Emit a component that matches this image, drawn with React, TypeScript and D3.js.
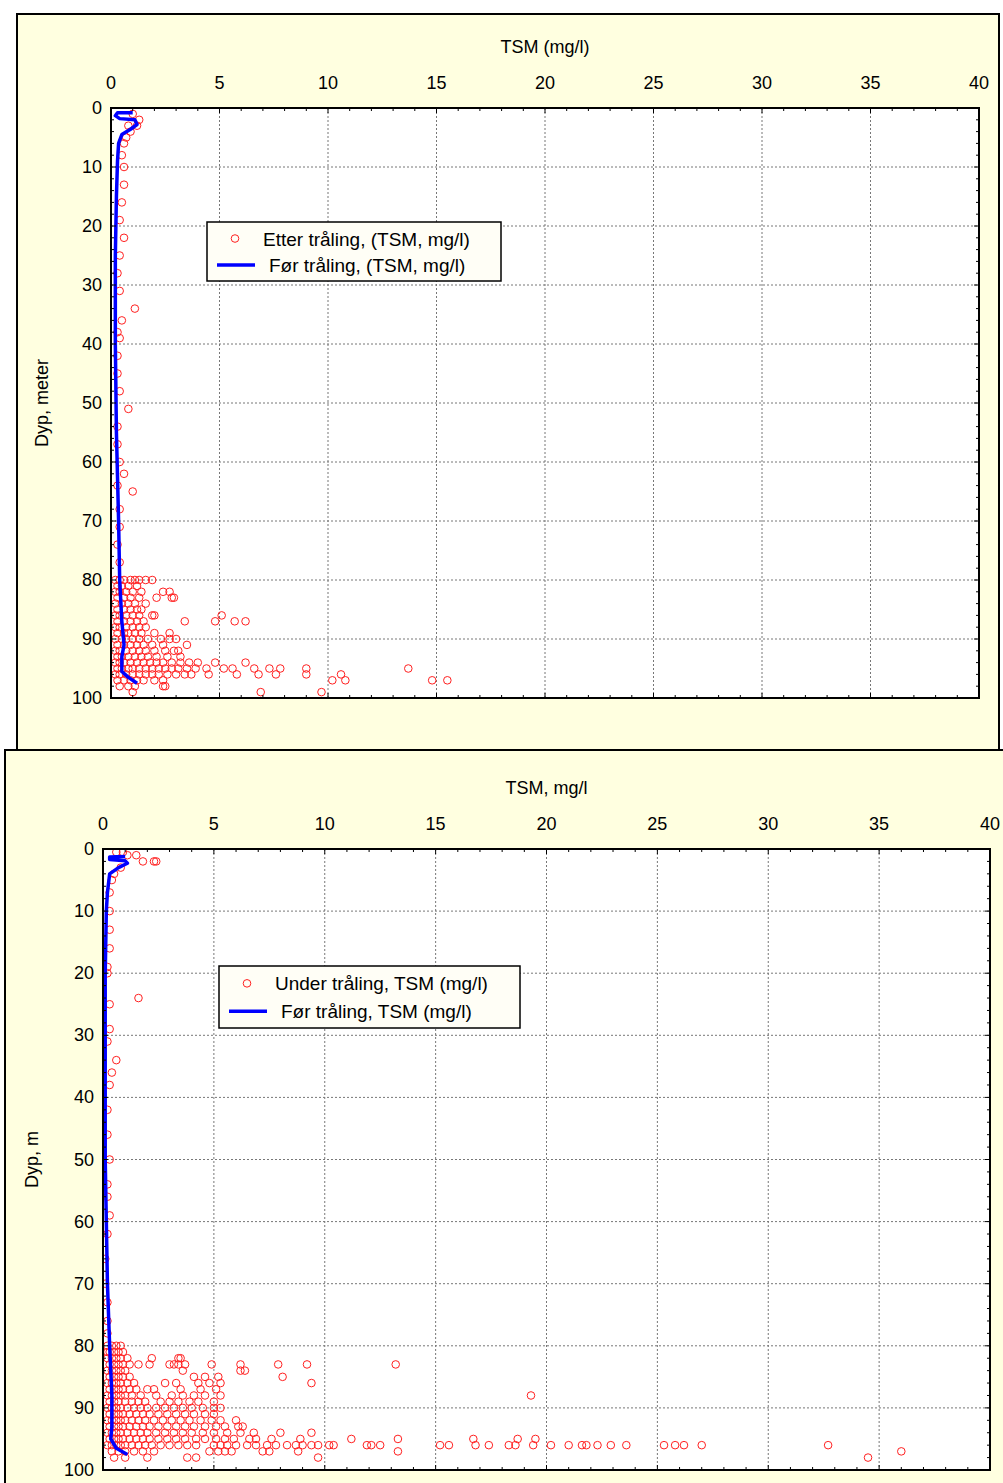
import * as d3 from "d3";

// Top panel: "Etter tråling" scatter, depth rows -> TSM values
const topSurface: [number, number][] = [
  [1.0, 1], [1.3, 2], [1.2, 3], [0.8, 3], [0.9, 4], [0.7, 5], [0.6, 6], [0.5, 8], [0.6, 10], [0.6, 13],
  [0.5, 16], [0.4, 19], [0.6, 22], [0.4, 25], [0.3, 28], [0.4, 31], [1.1, 34], [0.5, 36], [0.3, 38],
  [0.4, 39], [0.3, 42], [0.3, 45], [0.4, 48], [0.8, 51], [0.3, 54], [0.3, 57], [0.4, 60], [0.6, 62],
  [0.3, 64], [1.0, 65], [0.4, 68], [0.4, 71], [0.3, 74], [0.4, 77],
];
const topRows: [number, number[]][] = [
  [80, [0.2, 0.4, 0.6, 0.9, 1.1, 1.3, 1.6, 1.9]],
  [81, [0.3, 0.5, 0.8, 1.2]],
  [82, [0.2, 0.4, 0.7, 1.0, 1.4, 2.4, 2.7]],
  [83, [0.3, 0.6, 0.9, 1.3, 2.1, 2.8, 2.9]],
  [84, [0.2, 0.5, 0.8, 1.1, 1.6]],
  [85, [0.3, 0.6, 0.9, 1.2, 1.4]],
  [86, [0.2, 0.4, 0.7, 1.0, 1.3, 1.9, 2.0, 5.1]],
  [87, [0.3, 0.6, 0.9, 1.2, 1.5, 3.4, 4.8, 5.7, 6.2]],
  [88, [0.2, 0.4, 0.7, 1.0, 1.3, 1.6]],
  [89, [0.3, 0.6, 0.8, 1.1, 1.4, 2.0, 2.7]],
  [90, [0.2, 0.5, 0.7, 1.0, 1.3, 1.7, 2.3, 2.7, 3.0]],
  [91, [0.3, 0.6, 0.9, 1.2, 1.5, 1.9, 2.4, 3.5]],
  [92, [0.2, 0.4, 0.7, 1.0, 1.3, 1.6, 2.0, 2.5, 2.9, 3.1]],
  [93, [0.3, 0.5, 0.8, 1.1, 1.4, 1.7, 2.1, 2.6, 3.2]],
  [94, [0.2, 0.4, 0.6, 0.9, 1.2, 1.5, 1.8, 2.1, 2.4, 2.8, 3.2, 3.6, 4.0, 4.8, 6.2]],
  [95, [0.3, 0.5, 0.8, 1.0, 1.3, 1.6, 1.9, 2.2, 2.5, 2.8, 3.1, 3.5, 3.9, 4.4, 5.2, 5.6, 6.6, 7.3, 7.8, 9.0, 13.7]],
  [96, [0.2, 0.4, 0.7, 1.0, 1.3, 1.6, 1.9, 2.2, 2.6, 3.0, 3.4, 3.7, 4.5, 5.8, 6.8, 7.6, 9.0, 10.6]],
  [97, [0.3, 0.6, 0.9, 1.2, 1.5, 2.0, 2.4, 10.2, 10.8, 14.8, 15.5]],
  [98, [0.4, 0.8, 1.1, 2.4, 2.5]],
  [99, [1.0, 6.9, 9.7]],
];
const topLine: [number, number][] = [
  [1.0, 0.8], [0.3, 0.8], [0.2, 1.3], [0.4, 1.8], [1.1, 2.0], [1.2, 2.8], [0.9, 3.6], [0.5, 4.5],
  [0.35, 6], [0.3, 9], [0.25, 15], [0.2, 25], [0.2, 40], [0.25, 55], [0.35, 70], [0.4, 80],
  [0.5, 87], [0.6, 91], [0.5, 93], [0.5, 95.5], [0.8, 96.5], [1.2, 97.5],
];

// Bottom panel: "Under tråling"
const botSurface: [number, number][] = [
  [0.6, 0.5], [0.9, 0.5], [1.1, 1], [1.5, 1], [2.3, 2], [2.4, 2], [1.8, 2], [0.8, 3], [0.5, 4], [0.4, 5],
  [0.3, 7], [0.3, 10], [0.3, 13], [0.3, 16], [0.2, 19], [0.2, 20], [1.6, 24], [0.3, 25], [0.3, 29],
  [0.2, 31], [0.6, 34], [0.4, 36], [0.3, 38], [0.2, 42], [0.2, 46], [0.3, 50], [0.2, 54], [0.2, 56],
  [0.3, 59], [0.2, 62], [0.1, 66], [0.1, 70], [0.2, 73], [0.2, 76], [0.2, 78],
];
const botRows: [number, number[]][] = [
  [80, [0.2, 0.4, 0.6, 0.8]],
  [81, [0.2, 0.3, 0.5, 0.7, 0.9]],
  [82, [0.2, 0.4, 0.6, 0.8, 1.1, 2.2, 3.4, 3.5]],
  [83, [0.3, 0.5, 0.7, 0.9, 1.2, 1.6, 2.1, 3.0, 3.2, 3.4, 3.7, 4.9, 6.2, 7.9, 9.2, 13.2]],
  [84, [0.2, 0.4, 0.6, 0.8, 1.0, 3.6, 6.2, 6.4]],
  [85, [0.3, 0.5, 0.7, 0.9, 1.2, 4.1, 4.6, 5.2, 8.1]],
  [86, [0.2, 0.4, 0.6, 0.8, 1.1, 1.4, 2.8, 3.3, 4.3, 4.8, 5.3, 9.4]],
  [87, [0.3, 0.5, 0.7, 0.9, 1.2, 1.5, 2.0, 2.3, 3.5, 4.4, 5.1]],
  [88, [0.2, 0.4, 0.6, 0.8, 1.0, 1.3, 1.7, 2.4, 3.1, 3.6, 4.1, 4.6, 5.3, 19.3]],
  [89, [0.3, 0.5, 0.7, 1.0, 1.3, 1.6, 1.9, 2.6, 3.0, 3.4, 3.9, 4.3, 5.0]],
  [90, [0.2, 0.4, 0.6, 0.8, 1.1, 1.4, 1.7, 2.0, 2.4, 2.8, 3.2, 3.6, 4.0, 4.5, 5.0, 5.3]],
  [91, [0.3, 0.5, 0.7, 0.9, 1.2, 1.5, 1.8, 2.1, 2.5, 2.9, 3.3, 3.7, 4.1, 4.6, 5.0]],
  [92, [0.2, 0.4, 0.6, 0.8, 1.0, 1.3, 1.6, 1.9, 2.3, 2.7, 3.1, 3.5, 3.9, 4.4, 4.9, 5.3, 6.0]],
  [93, [0.3, 0.5, 0.7, 0.9, 1.2, 1.5, 1.8, 2.1, 2.5, 2.9, 3.3, 3.7, 4.1, 4.6, 5.1, 5.5, 6.1, 6.3]],
  [94, [0.2, 0.4, 0.6, 0.8, 1.1, 1.4, 1.7, 2.0, 2.4, 2.8, 3.2, 3.6, 4.0, 4.5, 5.0, 5.6, 6.2, 6.8, 8.0, 9.4]],
  [95, [0.3, 0.5, 0.7, 0.9, 1.2, 1.5, 1.8, 2.1, 2.5, 2.9, 3.3, 3.7, 4.2, 4.6, 5.1, 5.5, 5.9, 6.6, 6.9, 7.6, 8.9, 11.2, 13.3, 16.7, 18.7, 19.5]],
  [96, [0.2, 0.4, 0.6, 0.8, 1.0, 1.3, 1.6, 1.9, 2.2, 2.6, 3.0, 3.4, 3.8, 4.2, 5.0, 5.3, 5.6, 6.0, 6.5, 6.9, 7.4, 7.8, 8.3, 8.7, 9.0, 9.4, 9.7, 10.2, 10.4, 11.9, 12.1, 12.5, 15.2, 15.6, 16.8, 17.4, 18.3, 18.6, 19.4, 20.2, 21.0, 21.6, 21.8, 22.3, 22.9, 23.6, 25.3, 25.8, 26.2, 27.0, 32.7]],
  [97, [0.4, 0.7, 1.0, 1.4, 1.8, 2.3, 4.8, 5.2, 5.5, 5.8, 7.2, 7.5, 8.8, 13.3, 36.0]],
  [98, [0.5, 1.0, 2.0, 3.8, 4.2, 9.7, 34.5]],
];
const botLine: [number, number][] = [
  [1.0, 1.2], [0.3, 1.3], [0.3, 1.7], [1.0, 1.9], [1.1, 2.3], [0.7, 3.0], [0.3, 4.0], [0.2, 7],
  [0.15, 10], [0.1, 20], [0.1, 30], [0.1, 50], [0.15, 60], [0.2, 70], [0.3, 80], [0.4, 88],
  [0.4, 93], [0.35, 95], [0.6, 96.5], [1.1, 97.5],
];

const xTicks = [0, 5, 10, 15, 20, 25, 30, 35, 40];
const yTicks = [0, 10, 20, 30, 40, 50, 60, 70, 80, 90, 100];
const FONT = "'Liberation Sans', Arial, sans-serif";

type PanelProps = {
  box: { x0: number; x1: number; y0: number; y1: number };
  surface: [number, number][];
  rows: [number, number[]][];
  line: [number, number][];
  xTitle: string;
  yTitle: string;
  yTitleX: number;
  tickRight: number;
  legend: { x: number; y: number; w: number; h: number; a: string; b: string };
  id: string;
};

function Panel({ box, surface, rows, line, xTitle, yTitle, yTitleX, tickRight, legend, id }: PanelProps) {
  const x = d3.scaleLinear().domain([0, 40]).range([box.x0, box.x1]);
  const y = d3.scaleLinear().domain([0, 100]).range([box.y0, box.y1]);
  const pts: [number, number][] = [...surface, ...rows.flatMap(([d, xs]) => xs.map((v) => [v, d] as [number, number]))];
  const path = d3.line<[number, number]>().x((d) => x(d[0])).y((d) => y(d[1]))(line) || "";
  const minorX = d3.range(0, 41, 1);
  const minorY = d3.range(0, 101, 2);
  return (
    <g fontFamily={FONT}>
      <clipPath id={id}><rect x={box.x0} y={box.y0} width={box.x1 - box.x0} height={box.y1 - box.y0} /></clipPath>
      <rect x={box.x0} y={box.y0} width={box.x1 - box.x0} height={box.y1 - box.y0} fill="#fff" />
      {xTicks.slice(1, -1).map((t) => (
        <line key={"gx" + t} x1={x(t)} x2={x(t)} y1={box.y0} y2={box.y1} stroke="#777" strokeDasharray="2,2" />
      ))}
      {yTicks.slice(1, -1).map((t) => (
        <line key={"gy" + t} x1={box.x0} x2={box.x1} y1={y(t)} y2={y(t)} stroke="#777" strokeDasharray="2,2" />
      ))}
      <g clipPath={`url(#${id})`}>
        {pts.map((p, i) => (
          <circle key={i} cx={x(p[0])} cy={y(p[1])} r={3.8} fill="none" stroke="#ff2020" strokeWidth={1} />
        ))}
        <path d={path} fill="none" stroke="#0000ff" strokeWidth={3.5} strokeLinejoin="round" />
      </g>
      <rect x={box.x0} y={box.y0} width={box.x1 - box.x0} height={box.y1 - box.y0} fill="none" stroke="#000" strokeWidth={2} />
      {minorX.map((t) => (
        <g key={"mx" + t}>
          <line x1={x(t)} x2={x(t)} y1={box.y0} y2={box.y0 + (t % 5 ? 3 : 5)} stroke="#000" />
          <line x1={x(t)} x2={x(t)} y1={box.y1} y2={box.y1 - (t % 5 ? 3 : 5)} stroke="#000" />
        </g>
      ))}
      {minorY.map((t) => (
        <g key={"my" + t}>
          <line x1={box.x0} x2={box.x0 + (t % 10 ? 3 : 5)} y1={y(t)} y2={y(t)} stroke="#000" />
          <line x1={box.x1} x2={box.x1 - (t % 10 ? 3 : 5)} y1={y(t)} y2={y(t)} stroke="#000" />
        </g>
      ))}
      {xTicks.map((t) => (
        <text key={"tx" + t} x={x(t)} y={box.y0 - 19} textAnchor="middle" fontSize={18}>{t}</text>
      ))}
      {yTicks.map((t) => (
        <text key={"ty" + t} x={tickRight} y={y(t) + 6} textAnchor="end" fontSize={18}>{t}</text>
      ))}
      <text x={(box.x0 + box.x1) / 2} y={box.y0 - 55} textAnchor="middle" fontSize={18}>{xTitle}</text>
      <text transform={`translate(${yTitleX},${(box.y0 + box.y1) / 2}) rotate(-90)`} textAnchor="middle" fontSize={18}>{yTitle}</text>
      <g transform={`translate(${legend.x},${legend.y})`}>
        <rect width={legend.w} height={legend.h} fill="#fffef6" stroke="#000" strokeWidth={1.5} />
        <circle cx={28} cy={legend.h * 0.28} r={3.8} fill="none" stroke="#ff2020" />
        <line x1={10} x2={48} y1={legend.h * 0.73} y2={legend.h * 0.73} stroke="#0000ff" strokeWidth={3.5} />
        <text x={56} y={legend.h * 0.28 + 7} fontSize={19}>{legend.a}</text>
        <text x={62} y={legend.h * 0.73 + 7} fontSize={19}>{legend.b}</text>
      </g>
    </g>
  );
}

export default function App() {
  return (
    <svg width={1003} height={1483} style={{ position: "absolute", left: 0, top: 0 }}>
      <rect x={5} y={750} width={1010} height={760} fill="#ffffe0" stroke="#000" strokeWidth={2} />
      <rect x={17} y={14} width={982} height={736} fill="#ffffe0" stroke="#000" strokeWidth={2} />
      <Panel
        id="c1"
        box={{ x0: 111, x1: 979, y0: 108, y1: 698 }}
        surface={topSurface} rows={topRows} line={topLine}
        xTitle="TSM (mg/l)" yTitle="Dyp, meter" yTitleX={48} tickRight={102}
        legend={{ x: 207, y: 222, w: 294, h: 59, a: "Etter tråling, (TSM, mg/l)", b: "Før tråling, (TSM, mg/l)" }}
      />
      <Panel
        id="c2"
        box={{ x0: 103, x1: 990, y0: 849, y1: 1470 }}
        surface={botSurface} rows={botRows} line={botLine}
        xTitle="TSM, mg/l" yTitle="Dyp, m" yTitleX={38} tickRight={94}
        legend={{ x: 219, y: 966, w: 301, h: 62, a: "Under tråling, TSM (mg/l)", b: "Før tråling, TSM (mg/l)" }}
      />
    </svg>
  );
}
